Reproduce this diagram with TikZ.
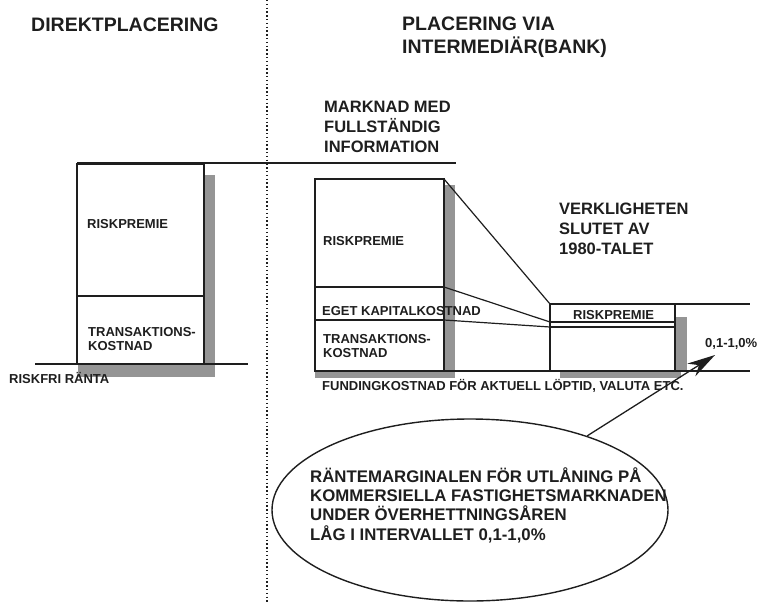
\documentclass[tikz,border=0pt]{standalone}
\usepackage{fontspec}
\setmainfont{Liberation Sans}
\usetikzlibrary{arrows.meta,shapes.geometric}
\definecolor{InkBlack} {HTML}{1E1E1E}
\definecolor{ShadeGray}{HTML}{959595}
\newcommand{\HeadFont}{\fontsize{19.5}{22}\selectfont\bfseries}
\newcommand{\NoteFont}{\fontsize{16.5}{20}\selectfont\bfseries}
\newcommand{\BoxFont}{\fontsize{13}{13.5}\selectfont\bfseries}

\begin{document}
\begin{tikzpicture}[x=1pt,y=-1pt,
    box/.style={draw=InkBlack,line width=1.2pt},
    shade/.style={fill=ShadeGray,draw=none},
    ground/.style={draw=InkBlack,line width=2.6pt},
    lbl/.style={anchor=base west,inner sep=0pt,text=InkBlack,align=left}]
  \useasboundingbox (0,0) rectangle (759,602);

  % dotted divider
  \coordinate (divtop) at (267,0);
  \coordinate (divbot) at (267,602);
  \draw[InkBlack,line width=2pt,dash pattern=on 1.4pt off 2.4pt] (divtop) -- (divbot);

  % shadows
  \fill[shade] (204,175) rectangle (215,377);
  \fill[shade] (78,365) rectangle (215,377);
  \fill[shade] (444,185) rectangle (455,378);
  \fill[shade] (315,371) rectangle (455,378);
  \fill[shade] (676,317) rectangle (687,371);
  \fill[shade] (560,371) rectangle (681,378);

  % reference lines
  \coordinate (infoL) at (77,163);
  \coordinate (infoR) at (456,163);
  \draw[InkBlack,line width=1.8pt] (infoL) -- (infoR);
  \coordinate (realL) at (550,304);
  \coordinate (realR) at (750,304);
  \draw[InkBlack,line width=1.4pt] (realL) -- (realR);
  \coordinate (freeL) at (35,364);
  \coordinate (freeR) at (248,364);
  \draw[ground] (freeL) -- (freeR);
  \coordinate (fundL) at (314,371);
  \coordinate (fundR) at (750,371);
  \draw[ground] (fundL) -- (fundR);

  % direct placement
  \draw[box] (77,164) rectangle (204,364);
  \draw[box] (77,296) -- (204,296);

  % via bank, full information
  \draw[box] (315,179) rectangle (444,371);
  \coordinate (bigrisk) at (444,179);
  \coordinate (bigeget) at (444,287);
  \coordinate (bigtrans) at (444,320);
  \draw[box] (315,287) -- (bigeget);
  \draw[box] (315,320) -- (bigtrans);

  % via bank, reality
  \draw[box] (550,304) rectangle (675,371);
  \coordinate (smallrisk) at (550,304);
  \coordinate (smalleget) at (550,322);
  \coordinate (smalltrans) at (550,327);
  \draw[box] (smalleget) -- (675,322);
  \draw[box] (smalltrans) -- (675,327);
  \draw[box] (bigrisk) -- (smallrisk);
  \draw[box] (bigeget) -- (smalleget);
  \draw[box] (bigtrans) -- (smalltrans);

  % texts
  \node[lbl,font=\HeadFont] (direkt) at (31,32) {DIREKTPLACERING};
  \node[lbl,font=\HeadFont] (viabank) at (402,53) {PLACERING VIA\\INTERMEDIÄR(BANK)};
  \node[lbl,font=\NoteFont] (fullinfo) at (324,152) {MARKNAD MED\\FULLSTÄNDIG\\INFORMATION};
  \node[lbl,font=\NoteFont] (reality) at (559,254) {VERKLIGHETEN\\SLUTET AV\\1980-TALET};
  \node[lbl,font=\BoxFont] (leftrisk) at (87,228) {RISKPREMIE};
  \node[lbl,font=\BoxFont] (lefttrans) at (88,350) {TRANSAKTIONS-\\KOSTNAD};
  \node[lbl,font=\BoxFont] (riskfri) at (9,383) {RISKFRI RÄNTA};
  \node[lbl,font=\BoxFont] (bigrisklbl) at (323,245) {RISKPREMIE};
  \node[lbl,font=\BoxFont] (egetlbl) at (322,315) {EGET KAPITALKOSTNAD};
  \node[lbl,font=\BoxFont] (bigtranslbl) at (323,357) {TRANSAKTIONS-\\KOSTNAD};
  \node[lbl,font=\BoxFont] (funding) at (322,390) {FUNDINGKOSTNAD FÖR AKTUELL LÖPTID, VALUTA ETC.};
  \node[lbl,font=\BoxFont] (smallrisklbl) at (573,319) {RISKPREMIE};
  \node[lbl,font=\BoxFont] (interval) at (705,347) {0,1-1,0\%};

  % margin note
  \node[ellipse,draw=InkBlack,line width=1.4pt,minimum width=396pt,minimum height=182pt,inner sep=0pt] (marginal) at (470,510) {};
  \node[lbl,font=\fontsize{16.8}{19.3}\selectfont\bfseries] (margintext) at (310,540)
    {RÄNTEMARGINALEN FÖR UTLÅNING PÅ\\KOMMERSIELLA FASTIGHETSMARKNADEN\\UNDER ÖVERHETTNINGSÅREN\\LÅG I INTERVALLET 0,1-1,0\%};
  \coordinate (margintip) at (715,355);
  \draw[InkBlack,line width=1.3pt,-{Stealth[length=28pt,width=15pt]}] (marginal) -- (margintip);
\end{tikzpicture}
\end{document}
